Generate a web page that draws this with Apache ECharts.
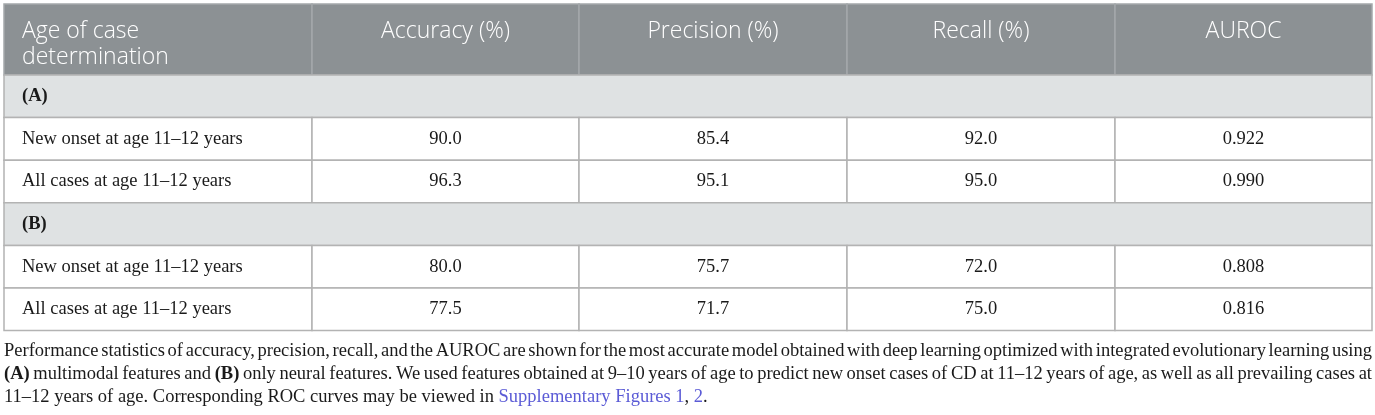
<!DOCTYPE html>
<html>
<head>
<meta charset="utf-8">
<script src="https://cdn.jsdelivr.net/npm/echarts@6/dist/echarts.min.js"></script>
<style>
    html, body { margin: 0; padding: 0; background: #fff; }
    #table { width: 1375px; height: 415px; }
</style>
</head>
<body>
<div id="table"></div>
<script>
// 表格数据
var columns = ['Age of case\ndetermination', 'Accuracy (%)', 'Precision (%)', 'Recall (%)', 'AUROC'];
var sections = ['(A)', '(B)'];
var rowLabels = ['New onset at age 11–12 years', 'All cases at age 11–12 years',
                 'New onset at age 11–12 years', 'All cases at age 11–12 years'];
var rowSection = [0, 0, 1, 1];
var accuracy = [90.0, 96.3, 80.0, 77.5];
var precision = [85.4, 95.1, 75.7, 71.7];
var recall = [92.0, 95.0, 72.0, 75.0];
var auroc = [0.922, 0.990, 0.808, 0.816];

var captionLines = [
    'Performance statistics of accuracy, precision, recall, and the AUROC are shown for the most accurate model obtained with deep learning optimized with integrated evolutionary learning using',
    '(A) multimodal features and (B) only neural features. We used features obtained at 9–10 years of age to predict new onset cases of CD at 11–12 years of age, as well as all prevailing cases at'
];
var captionLast = [
    {t: '11–12 years of age. Corresponding ROC curves may be viewed in ', link: false},
    {t: 'Supplementary Figures 1', link: true},
    {t: ', ', link: false},
    {t: '2', link: true},
    {t: '.', link: false}
];

// 版式
var colEdges = [4, 312, 579, 847, 1115, 1372];
var headerTop = 4, headerBottom = 75, rowH = 42.6;
var serif = '"Liberation Serif", "DejaVu Serif", serif';
var sans = '"Open Sans", Lato, sans-serif';
var bodyFont = '18.5px ' + serif;
var capFont = '18.5px ' + serif;

/**
 * 组装单元格
 */
function buildCells() {
    var cells = [];
    var rowEdges = [headerTop, headerBottom];
    columns.forEach(function (c, i) {
        cells.push({value: [i, 0], kind: 'head', text: c, span: 1});
    });
    var r = 1;
    sections.forEach(function (s, si) {
        cells.push({value: [0, r], kind: 'section', text: s, span: 5});
        r++;
        rowLabels.forEach(function (label, k) {
            if (rowSection[k] !== si) return;
            var vals = [label, accuracy[k].toFixed(1), precision[k].toFixed(1),
                        recall[k].toFixed(1), auroc[k].toFixed(3)];
            vals.forEach(function (v, ci) {
                cells.push({value: [ci, r], kind: ci === 0 ? 'label' : 'num', text: v, span: 1});
            });
            r++;
        });
    });
    for (var i = 0; i < r - 1; i++) rowEdges.push(headerBottom + rowH * (i + 1));
    return {cells: cells, rowEdges: rowEdges};
}

var built = buildCells();
var rowEdges = built.rowEdges;

function renderCell(params, api) {
    var item = built.cells[params.dataIndex];
    var c = api.value(0), r = api.value(1);
    var p0 = api.coord([colEdges[c], rowEdges[r]]);
    var p1 = api.coord([colEdges[c + item.span], rowEdges[r + 1]]);
    var w = p1[0] - p0[0], h = p1[1] - p0[1];
    var fill = '#ffffff', stroke = '#b3b3b3', textStyle;
    if (item.kind === 'head') {
        fill = '#8c9194';
        stroke = '#a4a8aa';
        textStyle = {
            text: item.text, fill: '#ffffff', font: '300 23px ' + sans,
            lineHeight: 25.5,
            x: c === 0 ? p0[0] + 18 : p0[0] + w / 2,
            y: p0[1] + 15,
            align: c === 0 ? 'left' : 'center', verticalAlign: 'top'
        };
    } else if (item.kind === 'section') {
        fill = '#dfe2e3';
        textStyle = {
            text: item.text, fill: '#1a1a1a', font: 'bold ' + bodyFont,
            x: p0[0] + 18, y: p0[1] + h / 2, align: 'left', verticalAlign: 'middle'
        };
    } else {
        textStyle = {
            text: item.text, fill: '#1a1a1a', font: bodyFont,
            x: item.kind === 'label' ? p0[0] + 18 : p0[0] + w / 2,
            y: p0[1] + h / 2,
            align: item.kind === 'label' ? 'left' : 'center', verticalAlign: 'middle'
        };
    }
    return {
        type: 'group',
        children: [
            {type: 'rect', shape: {x: p0[0], y: p0[1], width: w, height: h},
             style: {fill: fill, stroke: stroke, lineWidth: 1.5}},
            {type: 'text', style: textStyle}
        ]
    };
}

/**
 * 说明文字，两端对齐
 */
function buildCaption() {
    var ctx = document.createElement('canvas').getContext('2d');
    var left = 4, right = 1372, elements = [];
    var lineY = [351, 374, 397];
    captionLines.forEach(function (line, li) {
        var words = line.split(' ');
        var total = 0;
        words.forEach(function (wd) {
            var bold = wd === '(A)' || wd === '(B)';
            ctx.font = (bold ? 'bold ' : '') + capFont;
            total += ctx.measureText(wd).width;
        });
        var gap = (right - left - total) / (words.length - 1);
        var x = left;
        words.forEach(function (wd) {
            var bold = wd === '(A)' || wd === '(B)';
            ctx.font = (bold ? 'bold ' : '') + capFont;
            elements.push({
                type: 'text', x: x, y: lineY[li],
                style: {text: wd, fill: '#1a1a1a', font: (bold ? 'bold ' : '') + capFont,
                        verticalAlign: 'middle'}
            });
            x += ctx.measureText(wd).width + gap;
        });
    });
    var rich = {n: {fill: '#1a1a1a', font: capFont}, l: {fill: '#5b5bd6', font: capFont}};
    var txt = captionLast.map(function (s) { return '{' + (s.link ? 'l' : 'n') + '|' + s.t + '}'; }).join('');
    elements.push({type: 'text', x: left, y: lineY[2],
                   style: {text: txt, rich: rich, font: capFont, verticalAlign: 'middle'}});
    return elements;
}

function tableInit() {
    var option = {
        animation: false,
        grid: {left: 0, right: 0, top: 0, bottom: 0},
        xAxis: {type: 'value', min: 0, max: 1375, show: false},
        yAxis: {type: 'value', min: 0, max: 415, inverse: true, show: false},
        series: [{
            type: 'custom',
            renderItem: renderCell,
            data: built.cells.map(function (c) { return c.value; }),
            silent: true
        }],
        graphic: buildCaption()
    };
    var chart = echarts.init(document.getElementById('table'), null, {renderer: 'canvas'});
    chart.setOption(option);
}

tableInit();
</script>
</body>
</html>
